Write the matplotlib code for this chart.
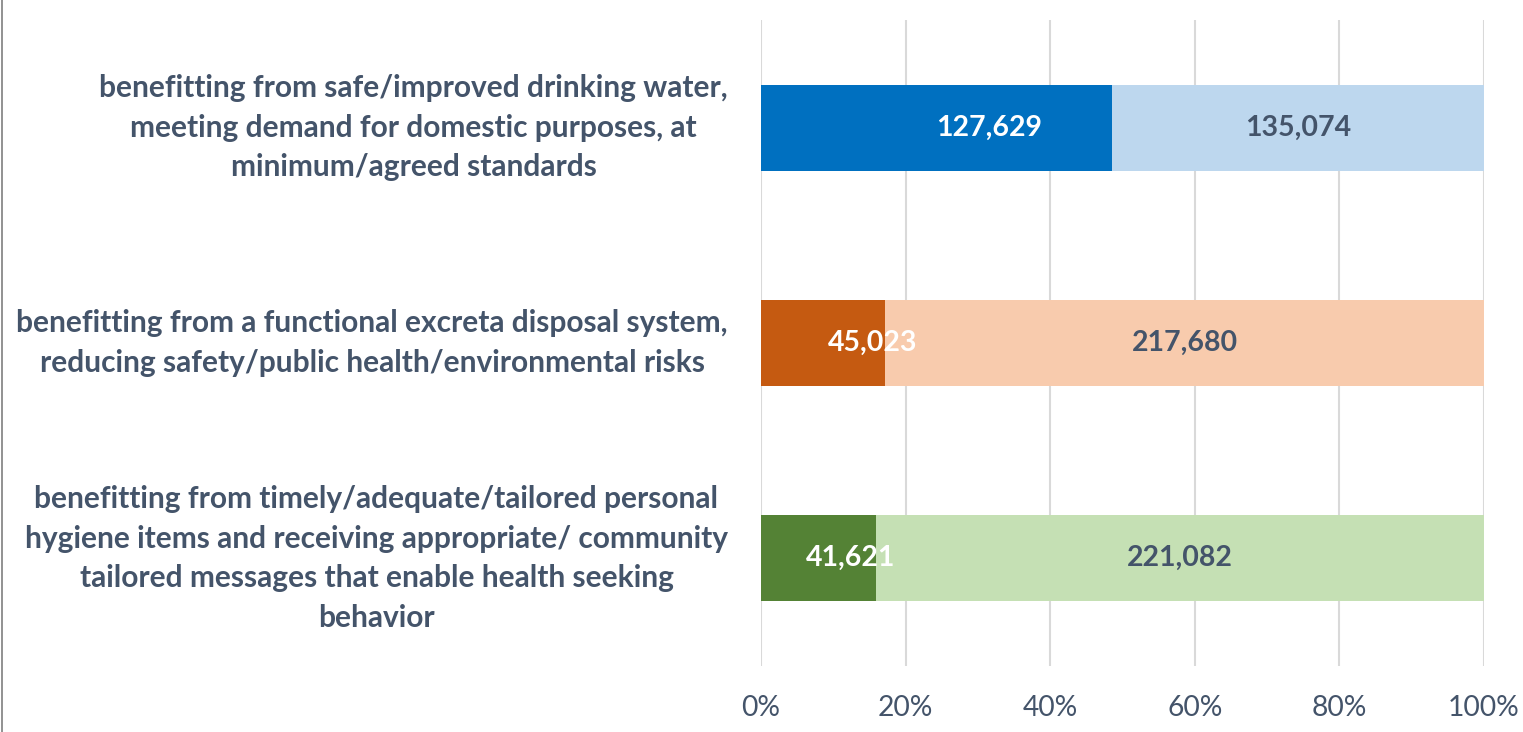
import numpy as np
import matplotlib.pyplot as plt
from matplotlib.lines import Line2D

# data
categories = [
    "benefitting from safe/improved drinking water,\nmeeting demand for domestic purposes, at\nminimum/agreed standards",
    "benefitting from a functional excreta disposal system,\nreducing safety/public health/environmental risks",
    "benefitting from timely/adequate/tailored personal\nhygiene items and receiving appropriate/ community\ntailored messages that enable health seeking\nbehavior",
]
reached = [127629, 45023, 41621]
remaining = [135074, 217680, 221082]
tick_labels = ["0%", "20%", "40%", "60%", "80%", "100%"]

dark_colors = ["#0070C0", "#C55A11", "#548235"]
light_colors = ["#BDD7EE", "#F8CBAD", "#C5E0B4"]
label_shift = [52, 50, 32]  # px offset of the white labels, as in the original
text_color = "#44546A"

plt.rcParams['font.family'] = ['Lato', 'DejaVu Sans']

fig = plt.figure(figsize=(15.23, 7.32), dpi=100)
ax = fig.add_axes([761 / 1523, 66 / 732, 723 / 1523, 646 / 732])

reached = np.array(reached, dtype=float)
remaining = np.array(remaining, dtype=float)
total = reached + remaining
p_reached = reached / total
p_remaining = remaining / total

y = np.arange(len(categories))
ax.barh(y, p_reached, height=0.4, color=dark_colors, zorder=2)
ax.barh(y, p_remaining, left=p_reached, height=0.4, color=light_colors, zorder=2)

for i in range(len(categories)):
    ax.annotate(f"{int(reached[i]):,}", (p_reached[i] / 2, y[i]),
                xytext=(label_shift[i] * 0.72, 0), textcoords='offset points',
                ha='center', va='center', color='white', fontsize=20.5,
                fontweight='bold', zorder=3)
    ax.text(p_reached[i] + p_remaining[i] / 2, y[i], f"{int(remaining[i]):,}",
            ha='center', va='center', color=text_color, fontsize=20.5,
            fontweight='bold', zorder=3)
    ax.text(-33 / 723, y[i], categories[i], transform=ax.get_yaxis_transform(),
            ha='right', va='center', multialignment='center', color=text_color,
            fontsize=21.5, fontweight='bold', linespacing=1.5)

ax.set_xlim(0, 1)
ax.set_ylim(len(categories) - 0.5, -0.5)
ax.set_xticks(np.linspace(0, 1, len(tick_labels)))
ax.set_xticklabels(tick_labels)
ax.set_yticks([])
ax.tick_params(axis='x', length=0, pad=21, labelsize=20.3, labelcolor=text_color)
ax.grid(axis='x', color='#D9D9D9', linewidth=1.5, zorder=0)
for s in ax.spines.values():
    s.set_visible(False)

# chart frame edge on the left
fig.add_artist(Line2D([2 / 1523, 2 / 1523], [0, 1], color='#7F7F7F', linewidth=1.2))

fig.savefig("out.png", dpi=100)
